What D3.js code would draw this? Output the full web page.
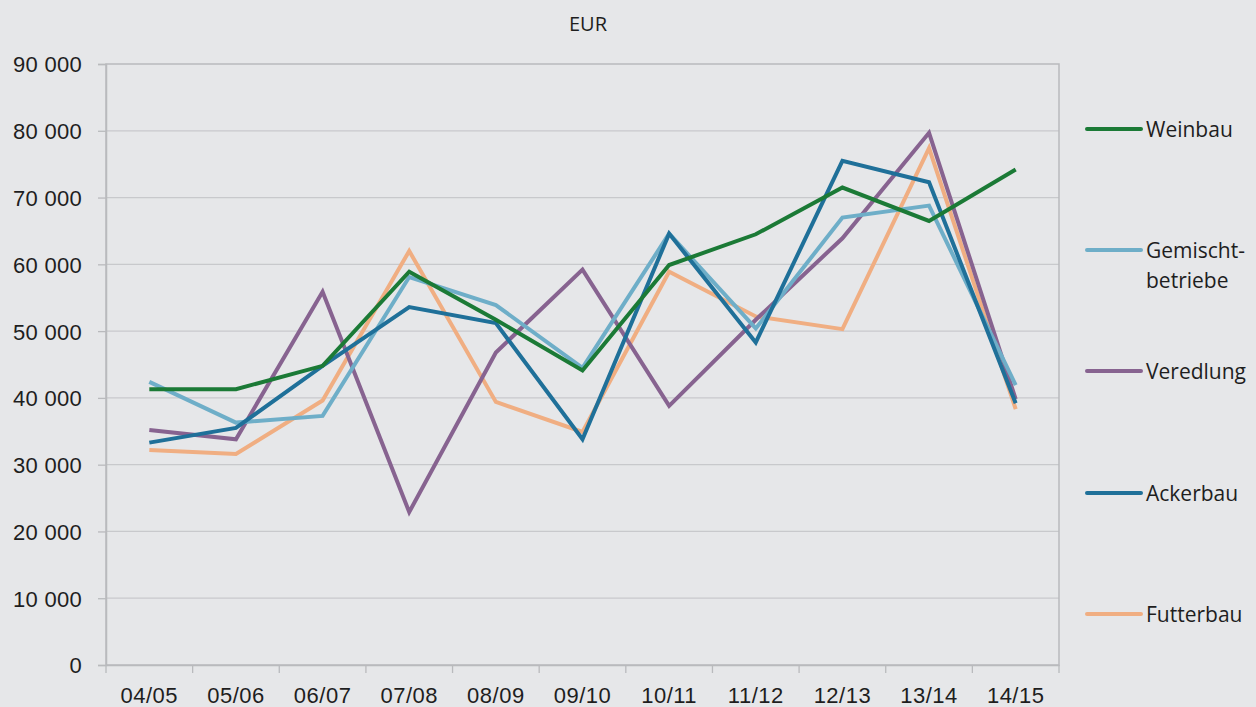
<!DOCTYPE html>
<html>
<head>
<meta charset="utf-8">
<script src="https://cdn.jsdelivr.net/npm/d3@7"></script>
<style>
  body { margin: 0; background: #e6e7e9; }
  svg { display: block; font-family: "Open Sans", "Noto Sans", sans-serif; }
</style>
</head>
<body>
<svg id="chart" width="1256" height="707"></svg>
<script>
const years = ["04/05", "05/06", "06/07", "07/08", "08/09", "09/10", "10/11", "11/12", "12/13", "13/14", "14/15"];
const yTicks = [0, 10000, 20000, 30000, 40000, 50000, 60000, 70000, 80000, 90000];

const weinbau = [41300, 41300, 44800, 58900, 51700, 44100, 59900, 64500, 71500, 66500, 74200];
const gemischt = [42400, 36300, 37300, 58100, 53900, 44500, 64600, 50400, 67000, 68800, 41900];
const veredlung = [35200, 33800, 55900, 22900, 46800, 59200, 38800, 51700, 63900, 79700, 39800];
const ackerbau = [33300, 35500, 44800, 53600, 51200, 33800, 64600, 48300, 75500, 72300, 39200];
const futterbau = [32200, 31600, 39600, 62000, 39400, 34900, 58900, 52200, 50300, 77400, 38300];

const series = [
  { name: ["Weinbau"], values: weinbau, color: "#1b7a36", ly: 129 },
  { name: ["Gemischt-", "betriebe"], values: gemischt, color: "#6eaec8", ly: 250 },
  { name: ["Veredlung"], values: veredlung, color: "#876390", ly: 371 },
  { name: ["Ackerbau"], values: ackerbau, color: "#1f7099", ly: 493 },
  { name: ["Futterbau"], values: futterbau, color: "#f0ae82", ly: 614 }
];
// draw order: Futterbau under, Weinbau on top as in the picture
const drawOrder = [4, 2, 1, 3, 0];

const svg = d3.select("#chart");
const margin = { top: 64, left: 106, right: 197, bottom: 42 };
const width = 1256 - margin.left - margin.right,
      height = 707 - margin.top - margin.bottom;

const g = svg.append("g").attr("transform", "translate(" + margin.left + "," + margin.top + ")");

const x = d3.scaleBand().domain(years).range([0, width]);
const y = d3.scaleLinear().domain([0, 90000]).range([height, 0]);

// gridlines
g.append("g")
  .selectAll("line")
  .data(yTicks.slice(1, -1))
  .enter()
  .append("line")
  .attr("x1", 0).attr("x2", width)
  .attr("y1", d => y(d)).attr("y2", d => y(d))
  .attr("stroke", "#c8c9cc")
  .attr("stroke-width", 1.3);

// plot frame
g.append("rect")
  .attr("width", width).attr("height", height)
  .attr("fill", "none")
  .attr("stroke", "#b9babd")
  .attr("stroke-width", 1.5);

// y axis
const yAxis = g.append("g")
  .call(d3.axisLeft(y).tickValues(yTicks).tickSize(8).tickPadding(16)
    .tickFormat(d => d3.format(",")(d).replace(/,/g, " ")));
yAxis.select(".domain").attr("stroke", "#b9babd").attr("stroke-width", 1.5);
yAxis.selectAll(".tick line").attr("stroke", "#b9babd").attr("stroke-width", 1.3);
yAxis.selectAll("text").attr("font-size", 22).attr("fill", "#1e1e1e").attr("dy", "0.36em")
  .attr("letter-spacing", "0.3px");

// x axis
const xAxis = g.append("g")
  .attr("transform", "translate(0," + height + ")")
  .call(d3.axisBottom(x).tickSize(0).tickPadding(20));
xAxis.select(".domain").attr("stroke", "#b9babd").attr("stroke-width", 1.5);
xAxis.selectAll("text").attr("font-size", 22).attr("fill", "#1e1e1e").attr("dy", "0.82em")
  .attr("letter-spacing", "0.5px");

// x ticks at band boundaries
g.append("g")
  .selectAll("line")
  .data(d3.range(years.length + 1))
  .enter()
  .append("line")
  .attr("x1", i => i * x.step()).attr("x2", i => i * x.step())
  .attr("y1", height).attr("y2", height + 8)
  .attr("stroke", "#b9babd")
  .attr("stroke-width", 1.3);

// lines
const line = d3.line()
  .x((d, i) => x(years[i]) + x.bandwidth() / 2)
  .y(d => y(d));

g.selectAll(".series")
  .data(drawOrder.map(i => series[i]))
  .enter()
  .append("path")
  .attr("d", d => line(d.values))
  .attr("fill", "none")
  .attr("stroke", d => d.color)
  .attr("stroke-width", 4)
  .attr("stroke-linejoin", "miter");

// title
svg.append("text")
  .attr("x", 588).attr("y", 31)
  .attr("text-anchor", "middle")
  .attr("font-size", 20)
  .attr("fill", "#1e1e1e")
  .text("EUR");

// legend
const legend = svg.append("g").selectAll("g")
  .data(series)
  .enter()
  .append("g")
  .attr("transform", d => "translate(1087," + d.ly + ")");

legend.append("line")
  .attr("x1", 0).attr("x2", 54)
  .attr("stroke", d => d.color)
  .attr("stroke-width", 4)
  .attr("stroke-linecap", "round");

legend.each(function (d) {
  const t = d3.select(this).append("text")
    .attr("x", 59)
    .attr("font-size", 21)
    .attr("fill", "#1e1e1e");
  d.name.forEach((s, i) => {
    t.append("tspan").attr("x", 59).attr("dy", i === 0 ? "0.36em" : 30).text(s);
  });
});
</script>
</body>
</html>
